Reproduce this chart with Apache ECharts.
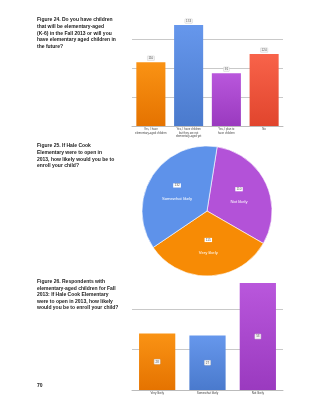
<!DOCTYPE html>
<html>
<head>
<meta charset="utf-8">
<script src="https://cdn.jsdelivr.net/npm/echarts@6/dist/echarts.min.js"></script>
<style>
  html, body { margin: 0; padding: 0; background: #fff; }
  #chart { width: 320px; height: 414px; }
</style>
</head>
<body>
<div id="chart"></div>
<script>
// figure 24
var childCats = ['Yes, I have\nelementary-aged children', 'Yes, I have children\nbut they are not\nelementary-aged yet', 'Yes, I plan to\nhave children', 'No'];
var childValues = [110, 174, 91, 124];
// figure 25
var likelyNames = ['Not likely', 'Very likely', 'Somewhat likely'];
var likelyValues = [110, 115, 132];
// figure 26
var enrollCats = ['Very likely', 'Somewhat likely', 'Not likely'];
var enrollValues = [28, 27, 53];

var textFont = '"Liberation Sans Narrow", "Liberation Sans", Arial, sans-serif';

function grad(top, bottom) {
    return new echarts.graphic.LinearGradient(0, 0, 0, 1, [
        {offset: 0, color: top},
        {offset: 1, color: bottom}
    ]);
}
var orange = grad('#fa9314', '#e57300');
var blue = grad('#6697ec', '#4a7acd');
var purple = grad('#b957dc', '#9a3abf');
var red = grad('#f8634a', '#e1452d');

function caption(text, top) {
    return {
        text: text,
        left: 37,
        top: top,
        padding: 0,
        textStyle: {
            fontFamily: textFont,
            fontSize: 5,
            fontWeight: 'bold',
            lineHeight: 6.6,
            color: '#222'
        }
    };
}

var chart = echarts.init(document.getElementById('chart'));
var option = {
    animation: false,
    title: [
        caption('Figure 24. Do you have children\nthat will be elementary-aged\n(K-6) in the Fall 2013 or will you\nhave elementary aged children in\nthe future?', 16.7),
        caption('Figure 25. If Hale Cook\nElementary were to open in\n2013, how likely would you be to\nenroll your child?', 142.7),
        caption('Figure 26. Respondents with\nelementary-aged children for Fall\n2013: If Hale Cook Elementary\nwere to open in 2013, how likely\nwould you be to enroll your child?', 278.4),
        caption('70', 382.7)
    ],
    grid: [
        {left: 132, right: 37, top: 21.6, bottom: 288},
        {left: 132, right: 37, top: 283, bottom: 24}
    ],
    xAxis: [
        {
            type: 'category', gridIndex: 0, data: childCats,
            axisLine: {lineStyle: {color: '#bbb'}},
            axisTick: {show: false},
            axisLabel: {interval: 0, fontSize: 2.8, lineHeight: 3.2, color: '#444', margin: 2}
        },
        {
            type: 'category', gridIndex: 1, data: enrollCats,
            axisLine: {lineStyle: {color: '#bbb'}},
            axisTick: {show: false},
            axisLabel: {interval: 0, fontSize: 3, color: '#444', margin: 2}
        }
    ],
    yAxis: [
        {
            type: 'value', gridIndex: 0, min: 0, max: 180, interval: 50,
            axisLabel: {show: false}, axisLine: {show: false}, axisTick: {show: false},
            splitLine: {showMaxLine: false, lineStyle: {color: '#bbb', width: 0.8}}
        },
        {
            type: 'value', gridIndex: 1, min: 0, max: 53, interval: 20,
            axisLabel: {show: false}, axisLine: {show: false}, axisTick: {show: false},
            splitLine: {showMaxLine: false, lineStyle: {color: '#bbb', width: 0.8}}
        }
    ],
    series: [
        {
            type: 'bar', xAxisIndex: 0, yAxisIndex: 0,
            barWidth: '77%',
            data: childValues.map(function (v, i) {
                return {value: v, itemStyle: {color: [orange, blue, purple, red][i]}};
            }),
            label: {
                show: true, position: 'top', distance: 2,
                fontSize: 3, color: '#555',
                backgroundColor: '#f4f4f4', borderColor: '#ccc', borderWidth: 0.4,
                padding: [0.5, 1]
            }
        },
        {
            type: 'pie',
            center: [207, 211],
            radius: 65,
            startAngle: 81,
            clockwise: true,
            data: likelyNames.map(function (n, i) {
                return {name: n, value: likelyValues[i], itemStyle: {color: ['#b352d8', '#f78b05', '#5e92ea'][i]}};
            }),
            itemStyle: {borderColor: '#fff', borderWidth: 0.6},
            label: {
                show: true, position: 'inside',
                formatter: '{v|{c}}\n{n|{b}}',
                rich: {
                    v: {fontSize: 3.2, color: '#555', backgroundColor: '#fff', padding: [0.6, 1.2], lineHeight: 13},
                    n: {fontSize: 4.2, color: '#fff', lineHeight: 13}
                }
            },
            labelLine: {show: false}
        },
        {
            type: 'bar', xAxisIndex: 1, yAxisIndex: 1,
            barWidth: '72%',
            data: enrollValues.map(function (v, i) {
                return {value: v, itemStyle: {color: [orange, blue, purple][i]}};
            }),
            label: {
                show: true, position: 'inside',
                fontSize: 3, color: '#555',
                backgroundColor: '#f4f4f4', borderColor: '#ccc', borderWidth: 0.4,
                padding: [0.8, 1.2]
            }
        }
    ]
};
chart.setOption(option);
</script>
</body>
</html>
